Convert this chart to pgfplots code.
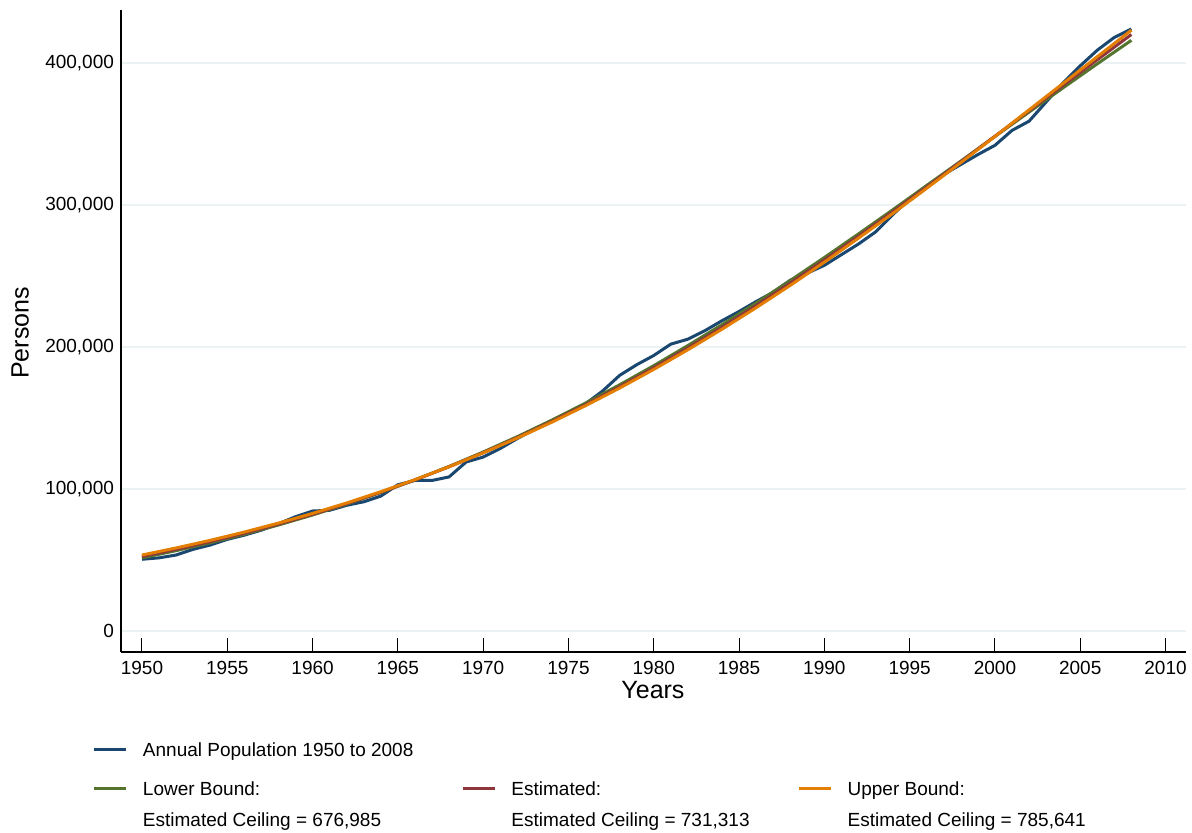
\documentclass[border=0pt]{standalone}
\usepackage{pgfplots}
\pgfplotsset{compat=1.18}
\usepackage{pgfplotstable}
\usepackage{fontspec}
\setmainfont{Liberation Sans}
\definecolor{snavy}{HTML}{1A476F}
\definecolor{sgreen}{HTML}{55752F}
\definecolor{smaroon}{HTML}{90353B}
\definecolor{sorange}{HTML}{E37E00}
\definecolor{gridc}{HTML}{EAF2F3}

\pgfplotstableread{
year pop
1950 50500
1951 51500
1952 53500
1953 57500
1954 60500
1955 64500
1956 67500
1957 71000
1958 75500
1959 80500
1960 84500
1961 85000
1962 88500
1963 91000
1964 95000
1965 103000
1966 106000
1967 106000
1968 108500
1969 119000
1970 122500
1971 128500
1972 135500
1973 142000
1974 148000
1975 153500
1976 160000
1977 169000
1978 180000
1979 187500
1980 194000
1981 202000
1982 205500
1983 211500
1984 218500
1985 225000
1986 232000
1987 238500
1988 247000
1989 252000
1990 257500
1991 265000
1992 272500
1993 281000
1994 293000
1995 304500
1996 313500
1997 321500
1998 328500
1999 335500
2000 342000
2001 352500
2002 359000
2003 372500
2004 386000
2005 398000
2006 409000
2007 418000
2008 424000
}\annual

\pgfplotstableread{
year lower est upper
1950 51501 52499 53500
1952 56580 57511 58464
1954 62109 62957 63848
1956 68114 68868 69680
1958 74632 75269 75988
1960 81692 82189 82804
1962 89324 89666 90159
1964 97548 97717 98070
1966 106394 106373 106571
1968 115883 115641 115672
1970 126021 125569 125422
1972 136848 136160 135830
1974 148331 147413 146904
1976 160499 159362 158651
1978 173364 171993 171089
1980 186858 185330 184206
1982 201005 199268 198044
1984 215738 213896 212508
1986 230974 229108 227656
1988 246805 244914 243383
1990 263009 261183 259716
1992 279630 277960 276634
1994 296533 295122 293917
1996 313709 312661 311763
1998 330882 330462 329824
2000 348243 348410 348245
2002 365444 366389 366950
2004 382542 384396 385687
2006 399401 402307 404407
2008 415966 420054 423116
}\fits

\begin{document}
\begin{tikzpicture}
\useasboundingbox (-60.5pt,-90pt) rectangle (535.5pt,326pt);
\begin{axis}[
  at={(0pt,0pt)}, anchor=south west,
  scale only axis, width=532.5pt, height=321pt,
  xmin=1948.77, xmax=2011.2, ymin=-14800, ymax=437300,
  axis x line*=bottom, axis y line*=left,
  axis line style={black, line width=0.8pt},
  xtick={1950,1955,...,2010},
  ytick={0,100000,200000,300000,400000},
  scaled y ticks=false,
  xticklabel style={/pgf/number format/.cd, fixed, 1000 sep=, /tikz/.cd, yshift=-1pt},
  yticklabel style={/pgf/number format/.cd, fixed, 1000 sep={,}},
  /pgf/number format/assume math mode=true,
  tick label style={font=\fontsize{9.5}{11}\selectfont},
  x tick style={black, line width=0.5pt},
  major tick length=7pt, tick align=inside,
  y tick style={draw=none},
  ymajorgrids, grid style={color=gridc, line width=1pt},
  xlabel={Years}, ylabel={Persons},
  label style={font=\fontsize{12.5}{15}\selectfont},
  x label style={at={(axis description cs:0.4995,-0.0592)}, anchor=center},
  y label style={at={(axis description cs:-0.0948,0.497)}, anchor=center},
  legend columns=3,
  legend style={draw=none, fill=none, at={(axis description cs:-0.0263,-0.1379)}, anchor=north west,
    inner sep=0pt, outer sep=0pt, row sep=8pt,
    font=\fontsize{9.5}{11.4}\selectfont,
    nodes={inner sep=0pt, text depth=},
    cells={anchor=base west},
    /tikz/every odd column/.append style={column sep=7.5pt},
    /tikz/every even column/.append style={column sep=24pt}},
  legend image code/.code={\draw[#1, line width=1.5pt] (0pt,3.3pt) -- (16pt,3.3pt);},
]
\addplot[snavy, line width=1.5pt] table[x=year, y=pop] {\annual};
\addlegendentry{\begin{tabular}[t]{@{}l@{}}Annual Population 1950 to 2008\end{tabular}}
\addlegendimage{empty legend}\addlegendentry{}
\addlegendimage{empty legend}\addlegendentry{}
\addplot[sgreen, line width=1.5pt] table[x=year, y=lower] {\fits};
\addlegendentry{\begin{tabular}[t]{@{}l@{}}Lower Bound:\\[4.1pt]Estimated Ceiling = 676,985\end{tabular}}
\addplot[smaroon, line width=1.5pt] table[x=year, y=est] {\fits};
\addlegendentry{\begin{tabular}[t]{@{}l@{}}Estimated:\\[4.1pt]Estimated Ceiling = 731,313\end{tabular}}
\addplot[sorange, line width=1.5pt] table[x=year, y=upper] {\fits};
\addlegendentry{\begin{tabular}[t]{@{}l@{}}Upper Bound:\\[4.1pt]Estimated Ceiling = 785,641\end{tabular}}
\end{axis}
\end{tikzpicture}
\end{document}
